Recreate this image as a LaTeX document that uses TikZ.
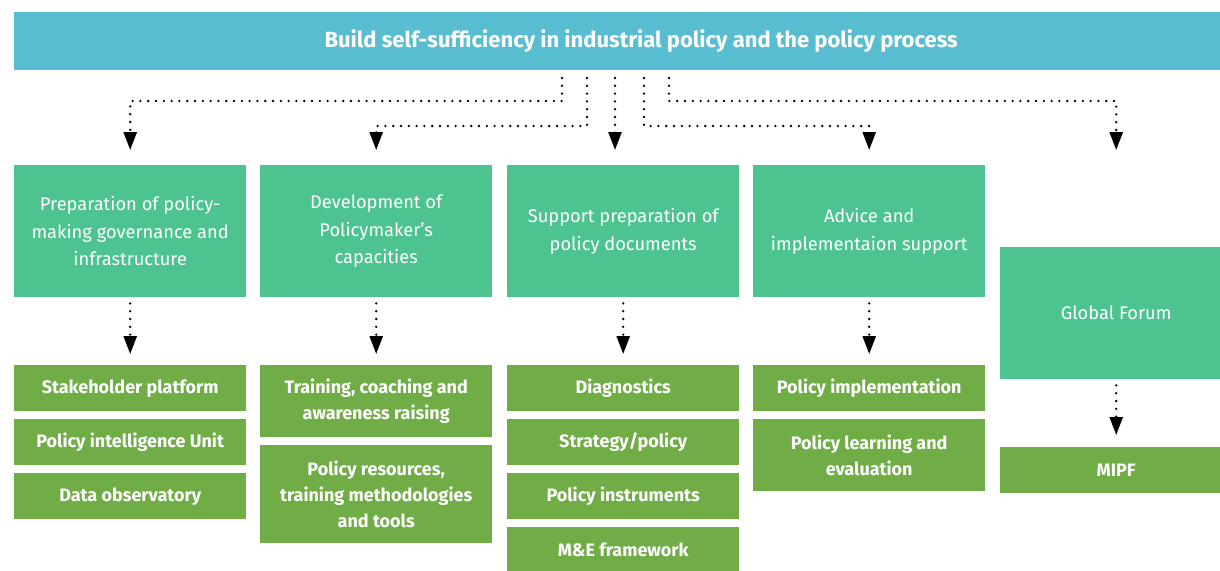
\documentclass[tikz,border=0pt]{standalone}
\usepackage{fontspec}
\setmainfont{Fira Sans}
\usetikzlibrary{arrows.meta}
\definecolor{hdrc}{RGB}{88,189,208}
\definecolor{tgreen}{RGB}{77,196,143}
\definecolor{bgreen}{RGB}{112,173,71}
\begin{document}
\begin{tikzpicture}[x=1pt,y=-1pt,
 hdrbox/.style={fill=hdrc, minimum width=1254pt, minimum height=58pt, inner sep=0pt, text=white, font=\fontsize{22}{26}\selectfont\bfseries, anchor=north west},
 titlebox/.style={fill=tgreen, minimum width=232pt, minimum height=132pt, inner sep=0pt, text=white, align=center, font=\fontsize{18.3}{27.5}\selectfont, anchor=north west},
 barbox/.style={fill=bgreen, minimum width=232pt, inner sep=0pt, text=white, align=center, font=\fontsize{18}{25.7}\selectfont\bfseries, anchor=north west},
 conn/.style={line width=2.6pt, dash pattern=on 0pt off 7.8pt, line cap=round, -{Triangle[width=13pt,length=18pt]}}
]
\useasboundingbox (0,0) rectangle (1220,570);
\clip (0,0) rectangle (1220,570);
\node[hdrbox] (hdr) at (14,12) {Build self-sufficiency in industrial policy and the policy process};

\node[titlebox] (t1) at (14,165) {Preparation of policy-\\making governance and\\infrastructure};
\node[titlebox] (t2) at (260,165) {Development of\\Policymaker’s\\capacities};
\node[titlebox] (t3) at (507,165) {Support preparation of\\policy documents};
\node[titlebox] (t4) at (753,165) {Advice and\\implementaion support};
\node[titlebox] (t5) at (1000,247) {Global Forum};

\node[barbox, minimum height=46pt] (b11) at (14,365) {Stakeholder platform};
\node[barbox, minimum height=46pt] (b12) at (14,419) {Policy intelligence Unit};
\node[barbox, minimum height=46pt] (b13) at (14,473) {Data observatory};

\node[barbox, minimum height=72pt] (b21) at (260,365) {Training, coaching and\\awareness raising};
\node[barbox, minimum height=98pt] (b22) at (260,445) {Policy resources,\\training methodologies\\and tools};

\node[barbox, minimum height=46pt] (b31) at (507,365) {Diagnostics};
\node[barbox, minimum height=46pt] (b32) at (507,419) {Strategy/policy};
\node[barbox, minimum height=46pt] (b33) at (507,473) {Policy instruments};
\node[barbox, minimum height=46pt] (b34) at (507,527) {M\&E framework};

\node[barbox, minimum height=46pt] (b41) at (753,365) {Policy implementation};
\node[barbox, minimum height=72pt] (b42) at (753,419) {Policy learning and\\evaluation};

\node[barbox, minimum height=46pt] (b51) at (1000,447) {MIPF};

\coordinate (s1) at (562,78);
\coordinate (s2) at (587,78);
\coordinate (s3) at (615,78);
\coordinate (s4) at (644,78);
\coordinate (s5) at (669,78);

\draw[conn] (s1) -- ++(0,23) -| ([yshift=15pt]t1.north);
\draw[conn] (s2) -- ++(0,48) -| ([yshift=15pt]t2.north);
\draw[conn] (s3) -- ([yshift=15pt]s3 |- t3.north);
\draw[conn] (s4) -- ++(0,48) -| ([yshift=15pt]t4.north);
\draw[conn] (s5) -- ++(0,23) -| ([yshift=15pt]t5.north |- t4.north);

\draw[conn] ([yshift=-6pt]t1.south) -- ([yshift=11pt]b11.north);
\draw[conn] ([yshift=-6pt]t2.south) -- ([yshift=11pt]b21.north);
\draw[conn] ([yshift=-6pt]t3.south) -- ([yshift=11pt]b31.north);
\draw[conn] ([yshift=-6pt]t4.south) -- ([yshift=11pt]b41.north);
\draw[conn] ([yshift=-6pt]t5.south) -- ([yshift=12pt]b51.north);
\end{tikzpicture}
\end{document}
